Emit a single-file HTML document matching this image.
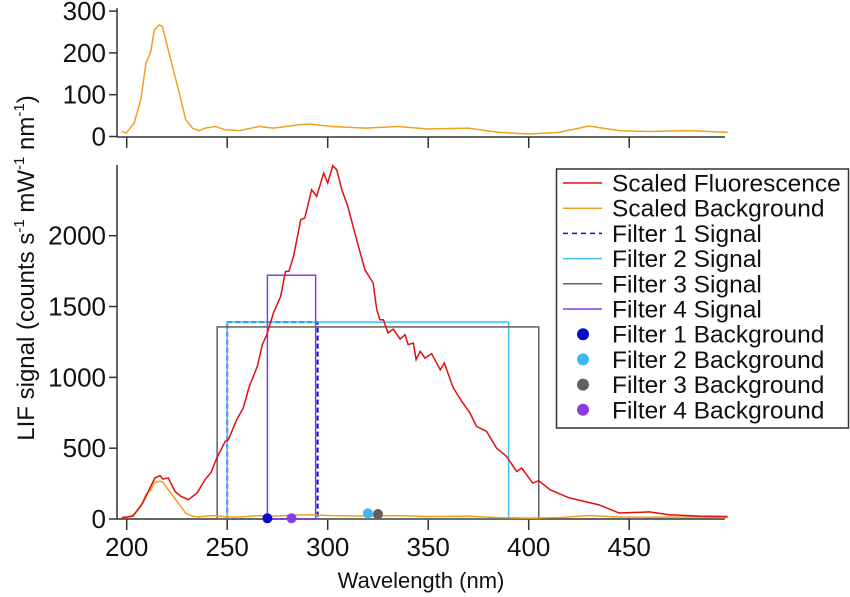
<!DOCTYPE html>
<html><head><meta charset="utf-8"><style>
html,body{margin:0;padding:0;background:#fff;}
svg{display:block;font-family:"Liberation Sans",Arial,sans-serif;}
</style></head><body>
<svg id="chart" width="850" height="597" viewBox="0 0 850 597"></svg>
<script>
const fluorNm=[197.5,199,203,208,214,216.6,218,220.7,224,227,230.7,235,239,242,244.8,249,250.6,254.7,258,261,265,267.5,269.7,273,276.6,279,280.7,283,286.6,288.6,292,294.5,298,300,302.5,304.5,307,310,314.4,318.5,322.6,324.4,326,327.7,330,332.6,336,338.5,340,342.6,344,346,348.4,351.7,356,358,362.5,366.7,370.8,374,379,384,389,394,396.5,402,405,410.6,420,435,445,460,470,485,499];
const fluorVal=[8,12,19,113,290,306,282,290,195,160,136,184,278,330,430,548,560,700,784,936,1078,1231,1301,1454,1572,1748,1748,1854,2113,2125,2325,2278,2442,2372,2494,2466,2325,2207,1972,1760,1666,1478,1407,1407,1313,1341,1271,1301,1231,1242,1125,1184,1136,1167,1054,1101,925,831,748,654,619,501,442,336,360,254,270,207,150,100,42,50,30,20,18];
const bgNm=[197.5,199.7,203.7,207,209.6,212,213.7,216.2,217.8,219.4,222.8,227,229.4,232.7,236,239,244,249,256,266,273,286,291,302,319,335,350,370,385,400,415,430,445,460,480,499];
const bgVal=[12,8,32,88,175,203,255,267,263,231,167,88,40,20,14,20,24,16,14,24,20,28,30,24,20,24,18,20,10,6,10,25,14,12,14,10];
const filterNames=["Filter 1 Signal","Filter 2 Signal","Filter 3 Signal","Filter 4 Signal"];
const filterLo=[250,250,245,270];
const filterHi=[295,390,405,294];
const filterHeight=[1390,1390,1356,1721];
const bgDotNm=[270,320,325,282];
const bgDotVal=[5,40,35,5];
const colors=["#1010e0","#40c0f0","#606060","#8040e0"];
const dotColors=["#0a0ac8","#3cb8f0","#606060","#8a3ce0"];
const xTicks=[200,250,300,350,400,450];
const yTicks=[0,500,1000,1500,2000];
const topYTicks=[0,100,200,300];

const svg=document.getElementById('chart');
const NS="http://www.w3.org/2000/svg";
function mk(t,a,p){const e=document.createElementNS(NS,t);for(const k in a)e.setAttribute(k,a[k]);(p||svg).appendChild(e);return e;}
const X=nm=>126.7+(nm-200)*2.01;
const Y=v=>519-v*0.14165;
const YT=v=>136.5-v*0.418;
const L=117,R=725;

let g=mk('g',{});
let e=mk('line',{x1:L,y1:8,x2:L,y2:137,stroke:'#333','stroke-width':1.5},g);
e=mk('line',{x1:L,y1:137,x2:R,y2:137,stroke:'#333','stroke-width':1.5},g);
topYTicks.forEach(v=>{mk('line',{x1:L-8,y1:YT(v),x2:L,y2:YT(v),stroke:'#333','stroke-width':1.5},g);
 e=mk('text',{x:L-11,y:YT(v)+9,'text-anchor':'end','font-size':26,fill:'#111'},g);e.textContent=v;});
xTicks.forEach(v=>{mk('line',{x1:X(v),y1:137,x2:X(v),y2:148,stroke:'#333','stroke-width':1.5},g);});
e=mk('polyline',{points:bgNm.map((n,i)=>X(n)+','+YT(bgVal[i])).join(' '),fill:'none',stroke:'#f0a020','stroke-width':1.5},g);


g=mk('g',{});
e=mk('line',{x1:L,y1:165,x2:L,y2:519,stroke:'#333','stroke-width':1.5},g);
e=mk('line',{x1:L,y1:519,x2:R,y2:519,stroke:'#333','stroke-width':1.5},g);
yTicks.forEach(v=>{mk('line',{x1:L-8,y1:Y(v),x2:L,y2:Y(v),stroke:'#333','stroke-width':1.5},g);
 e=mk('text',{x:L-11,y:Y(v)+9,'text-anchor':'end','font-size':26,fill:'#111'},g);e.textContent=v;});
xTicks.forEach(v=>{mk('line',{x1:X(v),y1:519,x2:X(v),y2:530,stroke:'#333','stroke-width':1.5},g);
 e=mk('text',{x:X(v),y:556,'text-anchor':'middle','font-size':26,fill:'#111'},g);e.textContent=v;});
filterNames.forEach((n,i)=>{const a={x:X(filterLo[i]),y:Y(filterHeight[i]),width:X(filterHi[i])-X(filterLo[i]),height:519-Y(filterHeight[i]),fill:'none',stroke:colors[i],'stroke-width':1.5};
 if(i===0){a['stroke-dasharray']='5,3';a['stroke-width']=2;}
 e=mk('rect',a,g);});
e=mk('polyline',{points:bgNm.map((n,i)=>X(n)+','+Y(bgVal[i])).join(' '),fill:'none',stroke:'#f0a020','stroke-width':1.5},g);

e=mk('polyline',{points:fluorNm.map((n,i)=>X(n)+','+Y(fluorVal[i])).join(' '),fill:'none',stroke:'#e01010','stroke-width':1.5},g);

bgDotNm.forEach((n,i)=>{e=mk('circle',{cx:X(n),cy:Y(bgDotVal[i]),r:5,fill:dotColors[i]},g);});

e=mk('text',{x:0,y:0,'text-anchor':'middle','font-size':24,fill:'#111',transform:'translate(34,268) rotate(-90)'});
e.innerHTML='LIF signal (counts s<tspan dy="-10" font-size="15">-1</tspan><tspan dy="10"> mW</tspan><tspan dy="-10" font-size="15">-1</tspan><tspan dy="10"> nm</tspan><tspan dy="-10" font-size="15">-1</tspan><tspan dy="10">)</tspan>';

e=mk('text',{x:421,y:588,'text-anchor':'middle','font-size':22,fill:'#111'});e.textContent='Wavelength (nm)';


const lg=mk('g',{});
mk('rect',{x:556.5,y:169,width:292,height:259,fill:'#fff',stroke:'#333','stroke-width':1.5},lg);
const legLabels=["Scaled Fluorescence","Scaled Background"].concat(filterNames,["Filter 1 Background","Filter 2 Background","Filter 3 Background","Filter 4 Background"]);
const legColors=["#e01010","#f0a020"].concat(colors,dotColors);
legLabels.forEach((t,i)=>{const y=183+i*25.2;
 const eg=mk('g',{},lg);
 if(i<6){const a={x1:563,y1:y,x2:602,y2:y,stroke:legColors[i],'stroke-width':1.5};if(i===2)a['stroke-dasharray']='5,4';mk('line',a,eg);}
 else mk('circle',{cx:583,cy:y,r:6,fill:legColors[i]},eg);
 const tx=mk('text',{x:612,y:y+8.5,'font-size':24.5,fill:'#111'},eg);tx.textContent=t;});
</script>
</body></html>
